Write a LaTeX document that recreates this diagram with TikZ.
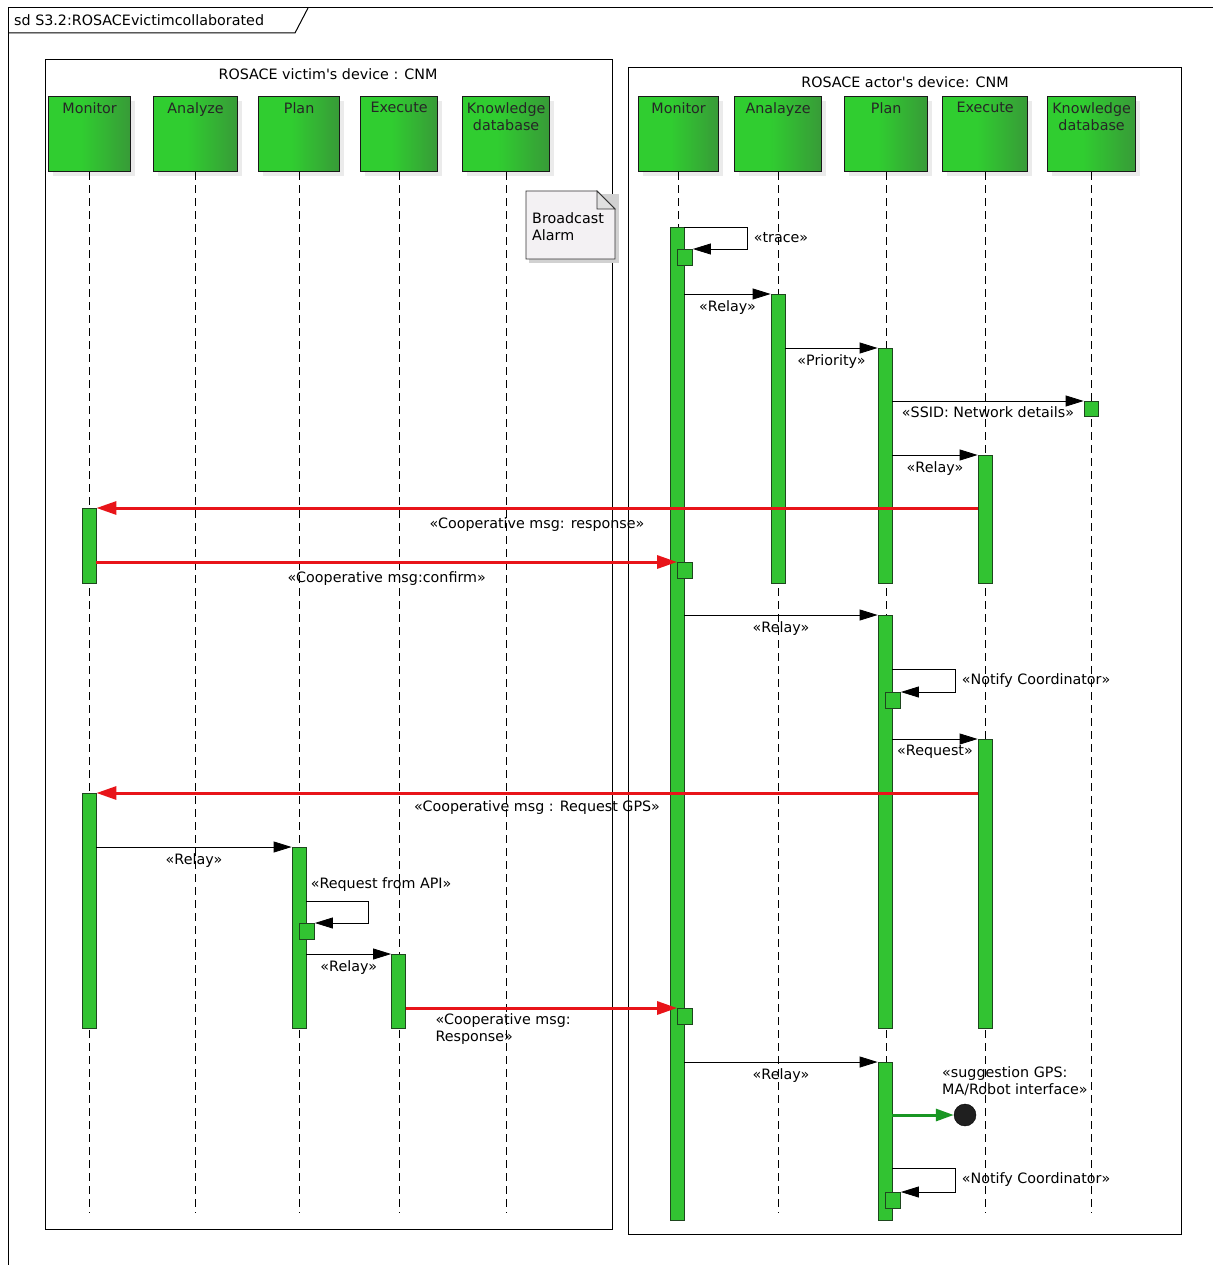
\documentclass[tikz,border=0pt]{standalone}
\usepackage{fontspec}
\setmainfont{DejaVu Sans}
\usetikzlibrary{arrows.meta,shadows,calc}
\definecolor{bargreen}{RGB}{50,195,50}
\definecolor{barline}{RGB}{30,70,30}
\definecolor{headbright}{RGB}{48,205,48}
\definecolor{headdark}{RGB}{62,112,62}
\definecolor{notefill}{RGB}{243,241,243}
\definecolor{msgred}{RGB}{232,20,25}
\definecolor{sugggreen}{RGB}{25,150,35}
\pgfdeclarehorizontalshading{headshade}{100bp}{color(0bp)=(headbright); color(45bp)=(headbright); color(100bp)=(headdark)}
\tikzset{
  lbl/.style={font=\fontsize{14.3}{17}\selectfont, inner sep=1pt, text=black},
  head/.style={draw=black!90, line width=1.2pt, inner sep=0pt, minimum height=75pt,
    shading=headshade,
    drop shadow={shadow xshift=4pt, shadow yshift=-4pt, fill=black!15}},
  hlabel/.style={lbl, anchor=north, align=center, yshift=-5pt, text=black!85},
  bar/.style={draw=barline, fill=bargreen, line width=0.8pt, minimum width=14pt, inner sep=0pt, anchor=north},
  sbox/.style={bar, minimum width=15pt, minimum height=16pt},
  life/.style={draw=black, line width=1pt, dash pattern=on 8pt off 5pt},
  msg/.style={draw=black, line width=0.8pt, -{Triangle[length=18pt,width=11pt]}},
  redmsg/.style={draw=msgred, line width=3pt, -{Triangle[length=20pt,width=13pt]}},
  greenmsg/.style={draw=sugggreen, line width=3pt, -{Triangle[length=18pt,width=12pt]}},
  container/.style={draw=black, line width=1.3pt, inner sep=0pt, anchor=north west},
}
\begin{document}
\begin{tikzpicture}[x=1pt, y=-1pt]
\useasboundingbox (0,0) rectangle (1213,1265);
\fill[white] (0,0) rectangle (1213,1265);
% outer frame
\draw[line width=1pt] (8,1265) -- (8,8) -- (1213,8);
\draw[line width=1pt] (8,33) -- (295,33) -- (308,8);
\node[lbl, anchor=west] (title) at (13,20) {sd S3.2:ROSACEvictimcollaborated};

% containers
\node[container, minimum width=567pt, minimum height=1170pt] (lbox) at (45,59) {};
\node[lbl] (ltitle) at (328,74) {ROSACE victim\textquotesingle s device : CNM};
\node[container, minimum width=553pt, minimum height=1167pt] (rbox) at (628,67) {};
\node[lbl] (rtitle) at (905,82) {ROSACE actor\textquotesingle s device: CNM};

% heads, left
\node[head, minimum width=82pt, anchor=north west, label={[hlabel]north:{Monitor}}] (lmon) at (48,96) {};
\node[head, minimum width=84pt, anchor=north west, label={[hlabel]north:{Analyze}}] (lana) at (153,96) {};
\node[head, minimum width=81pt, anchor=north west, label={[hlabel]north:{Plan}}] (lplan) at (258,96) {};
\node[head, minimum width=77pt, anchor=north west, label={[hlabel]north:{Execute}}] (lexe) at (360,96) {};
\node[head, minimum width=87pt, anchor=north west, label={[hlabel]north:{Knowledge\\database}}] (lknow) at (462,96) {};
% heads, right
\node[head, minimum width=80pt, anchor=north west, label={[hlabel]north:{Monitor}}] (rmon) at (638,96) {};
\node[head, minimum width=87pt, anchor=north west, label={[hlabel]north:{Analayze}}] (rana) at (734,96) {};
\node[head, minimum width=83pt, anchor=north west, label={[hlabel]north:{Plan}}] (rplan) at (844,96) {};
\node[head, minimum width=85pt, anchor=north west, label={[hlabel]north:{Execute}}] (rexe) at (942,96) {};
\node[head, minimum width=88pt, anchor=north west, label={[hlabel]north:{Knowledge\\database}}] (rknow) at (1047,96) {};

% lifelines
\coordinate (lifeend) at (0,1213);
\foreach \h in {lmon,lana,lplan,lexe,lknow,rmon,rana,rplan,rexe,rknow}{
  \draw[life] (\h.south) -- (\h.south |- lifeend);
}

% note
\fill[black!18] (529,194) rectangle (619,263);
\filldraw[fill=notefill, draw=black!80, line width=0.8pt] (526,191) -- (597,191) -- (615,209) -- (615,259) -- (526,259) -- cycle;
\filldraw[fill=black!12, draw=black!80, line width=0.8pt] (597,191) -- (597,209) -- (615,209) -- cycle;
\node[lbl, align=left, anchor=north west] (note) at (531,211) {Broadcast\\Alarm};

% activation bars, right
\node[bar, minimum height=993pt] (rmonA) at (677,227) {};
\node[bar, minimum height=289pt] (ranaA) at (778,294) {};
\node[bar, minimum height=235pt] (rplanA) at (885,348) {};
\node[bar, minimum height=128pt] (rexeA) at (985,455) {};
\node[bar, minimum height=413pt] (rplanB) at (885,615) {};
\node[bar, minimum height=289pt] (rexeB) at (985,739) {};
\node[bar, minimum height=158pt] (rplanC) at (885,1062) {};
\node[sbox] (rmonS1) at (685,249) {};
\node[sbox, minimum height=15pt, minimum width=14pt] (rknowS) at (1091,401) {};
\node[sbox] (rmonS2) at (685,562) {};
\node[sbox] (rplanS1) at (893,692) {};
\node[sbox] (rmonS3) at (685,1008) {};
\node[sbox] (rplanS2) at (893,1192) {};
% activation bars, left
\node[bar, minimum height=75pt] (lmonA) at (89,508) {};
\node[bar, minimum height=235pt] (lmonB) at (89,793) {};
\node[bar, minimum height=181pt] (lplanA) at (299,847) {};
\node[bar, minimum height=74pt] (lexeA) at (398.5,954) {};
\node[sbox] (lplanS) at (307,923) {};

% messages, right
\draw[msg] ($(rmonS1.north -| rmonA.east)+(0,-22)$) -- ++(63,0) |- node[lbl, right=5pt, pos=0.25] {«trace»} (rmonS1.north east);
\draw[msg] (rmonA.east |- ranaA.north) -- node[lbl, below=5pt] {«Relay»} (ranaA.north west);
\draw[msg] (ranaA.east |- rplanA.north) -- node[lbl, below=5pt] {«Priority»} (rplanA.north west);
\draw[msg] (rplanA.east |- rknowS.north) -- node[lbl, below=4pt] {«SSID: Network details»} (rknowS.north west);
\draw[msg] (rplanA.east |- rexeA.north) -- node[lbl, below=5pt] {«Relay»} (rexeA.north west);
\draw[redmsg] (rexeA.west |- lmonA.north) -- node[lbl, below=7pt] {«Cooperative msg: response»} (lmonA.north east);
\draw[redmsg] (lmonA.east |- rmonS2.north) -- node[lbl, below=7pt] {«Cooperative msg:confirm»} (rmonS2.north west);
\draw[msg] (rmonA.east |- rplanB.north) -- node[lbl, below=5pt] {«Relay»} (rplanB.north west);
\draw[msg] ($(rplanS1.north -| rplanB.east)+(0,-23)$) -- ++(63,0) |- node[lbl, right=5pt, pos=0.25] {«Notify Coordinator»} (rplanS1.north east);
\draw[msg] (rplanB.east |- rexeB.north) -- node[lbl, below=5pt] {«Request»} (rexeB.north west);
\draw[redmsg] (rexeB.west |- lmonB.north) -- node[lbl, below=5pt] {«Cooperative msg : Request GPS»} (lmonB.north east);
% messages, left
\draw[msg] (lmonB.east |- lplanA.north) -- node[lbl, below=5pt] {«Relay»} (lplanA.north west);
\draw[msg] ($(lplanS.north -| lplanA.east)+(0,-22)$) node[lbl, anchor=south west, xshift=3pt, yshift=8pt] {«Request from API»} -- ++(62,0) |- (lplanS.north east);
\draw[msg] (lplanA.east |- lexeA.north) -- node[lbl, below=5pt] {«Relay»} (lexeA.north west);
\draw[redmsg] (lexeA.east |- rmonS3.north) -- node[lbl, pos=0.1, anchor=north west, align=left, yshift=-3pt] {«Cooperative msg:\\Response»} (rmonS3.north west);
% final part
\draw[msg] (rmonA.east |- rplanC.north) -- node[lbl, below=5pt] {«Relay»} (rplanC.north west);
\node[circle, fill=black!88, draw=black, minimum size=22pt, inner sep=0pt] (gpsend) at (965,1115) {};
\node[lbl, align=left, anchor=south west] (sugg) at (941,1097) {«suggestion GPS:\\MA/Robot interface»};
\draw[greenmsg] (rplanC.east |- gpsend) -- (gpsend.west);
\draw[msg] ($(rplanS2.north -| rplanC.east)+(0,-24)$) -- ++(63,0) |- node[lbl, right=5pt, pos=0.25] {«Notify Coordinator»} (rplanS2.north east);
\end{tikzpicture}
\end{document}
